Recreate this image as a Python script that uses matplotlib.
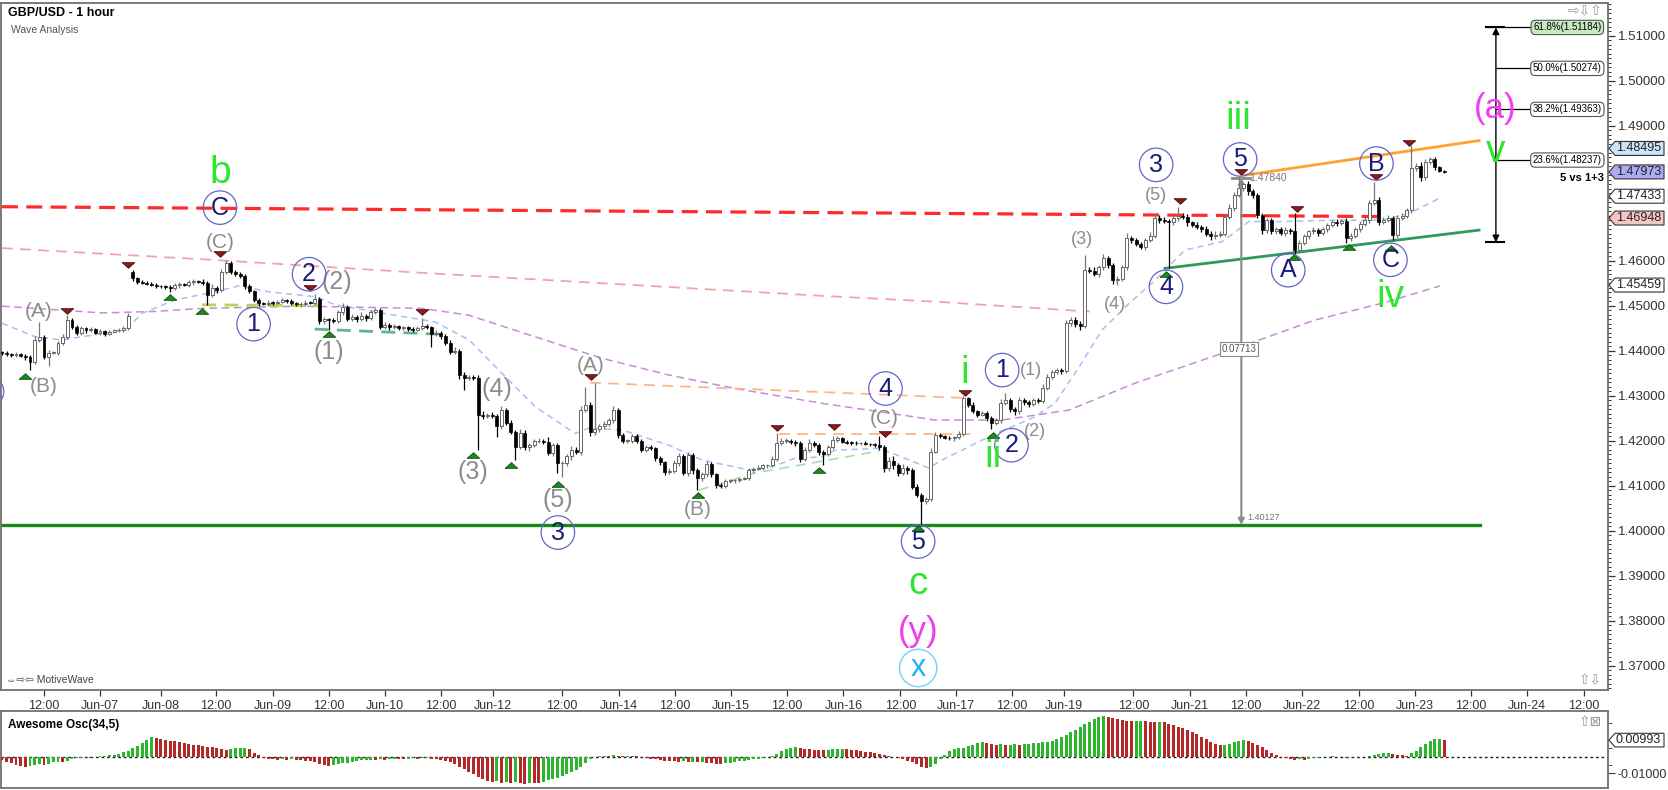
import matplotlib
matplotlib.use("Agg")
import matplotlib.pyplot as plt
import matplotlib.transforms as mtrans
from matplotlib.patches import Polygon
from matplotlib.ticker import FixedLocator, MultipleLocator
import numpy as np

plt.rcParams['font.family'] = ['Liberation Sans', 'DejaVu Sans']

W, H = 1668, 790

# --- GBP/USD hourly closes, in pips above 1.40000 (bar 0 = first visible bar) ---
close_pips = [
    395, 392, 390, 393, 388, 385, 376, 424, 431, 387,
    396, 396, 417, 431, 468, 453, 440, 450, 445, 448,
    440, 443, 438, 442, 445, 446, 450, 477, 561, 553,
    551, 549, 546, 544, 543, 542, 540, 545, 548, 546,
    552, 555, 553, 551, 524, 540, 535, 575, 595, 576,
    570, 565, 544, 533, 513, 505, 504, 507, 506, 509,
    512, 510, 505, 503, 504, 507, 506, 515, 465, 470,
    468, 466, 485, 498, 470, 475, 470, 478, 472, 485,
    490, 453, 458, 452, 455, 450, 452, 449, 446, 450,
    455, 452, 437, 440, 432, 417, 398, 400, 346, 340,
    342, 340, 257, 255, 258, 255, 233, 268, 239, 220,
    187, 218, 185, 190, 199, 200, 198, 173, 190, 150,
    150, 165, 180, 175, 268, 280, 220, 225, 232, 238,
    245, 268, 213, 200, 200, 210, 200, 180, 185, 183,
    162, 152, 131, 133, 150, 165, 128, 168, 135, 117,
    125, 148, 125, 102, 100, 110, 112, 113, 115, 117,
    134, 137, 140, 145, 146, 160, 195, 200, 200, 197,
    195, 160, 180, 195, 190, 175, 170, 185, 201, 205,
    198, 196, 195, 194, 195, 193, 192, 190, 185, 139,
    155, 145, 128, 140, 135, 98, 79, 65, 70, 176,
    213, 210, 207, 205, 208, 215, 294, 280, 265, 258,
    262, 250, 240, 245, 284, 290, 270, 265, 290, 285,
    282, 290, 288, 317, 342, 352, 358, 355, 461, 468,
    460, 455, 579, 578, 570, 585, 605, 590, 557, 560,
    585, 650, 645, 638, 630, 645, 655, 695, 690, 688,
    685, 695, 700, 698, 685, 680, 675, 670, 660, 655,
    658, 660, 698, 717, 746, 762, 770, 755, 745, 701,
    668, 690, 665, 670, 662, 668, 665, 624, 640, 655,
    665, 668, 662, 670, 680, 686, 684, 688, 650, 655,
    670, 682, 690, 728, 735, 687, 690, 695, 657, 695,
    700, 712, 805, 810, 785, 820, 825, 808, 800, 798,
]
first_open = 397
open_gaps = {28: 575}   # bars whose open is not the previous close

# wick lengths beyond the body, pips
hi_wick = [
    3, 4, 3, 5, 3, 4, 6, 8, 33, 5,
    6, 4, 5, 6, 12, 5, 4, 6, 3, 4,
    3, 5, 4, 3, 4, 5, 4, 6, 4, 3,
    4, 3, 3, 5, 3, 4, 3, 5, 4, 3,
    5, 4, 3, 6, 5, 8, 4, 6, 7, 5,
    4, 6, 5, 4, 3, 4, 3, 5, 4, 3,
    6, 3, 4, 3, 4, 5, 4, 10, 4, 5,
    3, 4, 6, 9, 4, 6, 4, 8, 3, 6,
    5, 4, 5, 3, 4, 3, 4, 3, 4, 5,
    17, 5, 4, 6, 4, 5, 6, 8, 4, 6,
    5, 4, 6, 8, 4, 6, 5, 9, 5, 6,
    4, 8, 5, 6, 4, 5, 4, 10, 6, 4,
    5, 6, 8, 6, 10, 40, 6, 104, 6, 5,
    6, 10, 4, 5, 4, 6, 5, 4, 6, 5,
    4, 5, 4, 6, 8, 7, 5, 6, 5, 4,
    6, 7, 5, 4, 3, 5, 4, 3, 4, 3,
    6, 4, 5, 4, 3, 6, 22, 6, 5, 4,
    5, 4, 6, 8, 5, 4, 5, 6, 9, 5,
    3, 4, 3, 4, 3, 4, 3, 4, 20, 5,
    8, 10, 6, 8, 4, 5, 6, 4, 6, 8,
    6, 4, 3, 4, 3, 6, 6, 4, 5, 4,
    5, 4, 6, 5, 8, 16, 5, 4, 8, 6,
    5, 6, 4, 8, 6, 5, 4, 3, 8, 6,
    8, 5, 34, 6, 8, 6, 10, 5, 4, 6,
    6, 12, 5, 6, 4, 6, 8, 9, 6, 8,
    5, 6, 20, 6, 5, 4, 6, 5, 8, 6,
    7, 6, 6, 8, 6, 25, 6, 8, 5, 6,
    6, 5, 6, 5, 4, 6, 5, 40, 6, 5,
    4, 6, 5, 6, 4, 5, 6, 5, 7, 6,
    5, 6, 8, 6, 41, 6, 8, 6, 5, 6,
    5, 6, 52, 8, 10, 6, 5, 6, 2, 2,
]
lo_wick = [
    4, 3, 5, 4, 3, 5, 19, 6, 5, 6,
    22, 4, 5, 4, 6, 5, 4, 6, 5, 4,
    3, 4, 5, 4, 3, 4, 5, 4, 5, 4,
    3, 4, 3, 5, 3, 4, 9, 4, 5, 3,
    4, 5, 3, 4, 22, 5, 6, 4, 5, 6,
    5, 4, 6, 5, 4, 5, 3, 4, 5, 3,
    4, 5, 3, 4, 5, 4, 3, 5, 6, 5,
    21, 4, 5, 6, 4, 5, 6, 4, 5, 4,
    4, 5, 4, 6, 4, 5, 4, 5, 4, 3,
    5, 4, 28, 5, 6, 4, 5, 6, 8, 27,
    6, 5, 78, 6, 5, 4, 24, 6, 5, 6,
    30, 6, 5, 8, 4, 5, 6, 5, 8, 22,
    30, 6, 8, 5, 6, 5, 10, 8, 6, 5,
    6, 5, 8, 5, 4, 6, 5, 6, 5, 4,
    6, 5, 8, 6, 5, 6, 5, 6, 8, 27,
    6, 5, 6, 8, 5, 4, 3, 5, 4, 3,
    4, 5, 3, 4, 5, 4, 6, 5, 4, 5,
    6, 8, 5, 4, 5, 6, 24, 5, 4, 3,
    4, 3, 4, 3, 4, 3, 4, 3, 6, 8,
    6, 8, 6, 5, 8, 6, 5, 52, 6, 5,
    4, 5, 4, 3, 5, 4, 5, 6, 4, 5,
    4, 6, 15, 5, 6, 5, 6, 8, 6, 5,
    6, 5, 4, 5, 4, 5, 4, 6, 5, 6,
    8, 10, 5, 6, 5, 6, 5, 6, 8, 12,
    5, 6, 5, 6, 5, 6, 4, 5, 6, 5,
    101, 5, 6, 5, 8, 6, 5, 6, 5, 8,
    6, 5, 6, 5, 6, 5, 6, 8, 6, 5,
    8, 6, 5, 6, 5, 6, 5, 9, 6, 5,
    6, 5, 6, 5, 6, 5, 6, 5, 10, 6,
    5, 6, 5, 6, 5, 8, 6, 5, 12, 6,
    5, 6, 6, 5, 8, 6, 5, 6, 2, 2,
]

# Awesome Oscillator (34,5), units of 0.001
ao_vals = [
    -2.0, -3.0, -4.0, -5.0, -5.8, -6.0, -5.6, -5.0, -4.6, -4.8,
    -4.2, -3.4, -3.0, -3.4, -2.6, -1.6, -1.0, -0.6, -0.4, -0.5,
    -0.2, 0.3, 0.6, 0.9, 1.3, 1.8, 2.6, 3.4, 5.0, 6.6,
    8.4, 10.2, 12.0, 11.2, 10.6, 10.0, 9.6, 9.2, 8.8, 8.2,
    7.6, 7.2, 7.0, 6.4, 5.8, 5.6, 5.2, 4.6, 4.0, 4.4,
    5.0, 5.4, 5.4, 4.6, 2.4, 0.8, -0.6, -1.2, -1.6, -1.8,
    -1.6, -1.8, -1.6, -1.8, -2.0, -2.4, -2.8, -3.4, -4.4, -5.2,
    -5.6, -5.2, -4.6, -4.0, -3.6, -3.0, -2.6, -2.2, -2.0, -1.8,
    -2.0, -1.6, -1.8, -1.4, -1.2, -1.4, -1.6, -1.2, -1.0, -1.3,
    -1.0, -0.8, -1.2, -1.6, -2.0, -2.4, -3.4, -4.4, -6.0, -7.6,
    -9.0, -10.4, -12.0, -13.2, -14.4, -15.2, -14.8, -15.6, -15.2, -16.0,
    -15.4, -16.0, -16.2, -15.6, -15.8, -16.0, -15.0, -14.2, -13.4, -12.6,
    -11.6, -10.6, -9.4, -7.8, -6.0, -3.6, -1.6, -0.4, 0.2, 0.6,
    0.4, 0.8, 0.6, 0.2, 0.5, 0.3, 0.2, -0.4, -0.8, -1.2,
    -1.6, -2.0, -2.4, -2.6, -2.8, -3.0, -2.8, -3.2, -3.0, -3.4,
    -3.2, -3.6, -3.8, -4.2, -4.4, -4.0, -3.6, -3.2, -2.8, -2.4,
    -2.0, -1.6, -1.2, -0.8, -0.4, 0.2, 1.6, 3.2, 4.4, 5.2,
    5.6, 5.2, 4.8, 4.6, 4.2, 4.0, 3.8, 4.2, 4.6, 4.8,
    4.8, 4.6, 4.2, 4.0, 3.6, 3.0, 2.6, 2.0, 1.4, 0.8,
    0.2, -0.4, -1.0, -1.6, -2.4, -3.4, -4.6, -6.2, -7.0, -6.4,
    -4.2, -1.4, 1.2, 3.6, 4.6, 5.0, 5.4, 6.2, 7.2, 8.2,
    8.6, 8.0, 7.6, 7.2, 7.4, 7.0, 7.2, 7.6, 7.2, 7.4,
    7.8, 8.0, 8.4, 8.6, 9.0, 9.6, 10.4, 11.6, 13.0, 14.6,
    16.2, 17.8, 19.4, 21.0, 22.4, 23.6, 24.2, 24.0, 23.2, 22.6,
    22.0, 21.4, 21.2, 21.4, 21.6, 21.4, 21.0, 20.6, 20.8, 20.6,
    19.6, 18.8, 18.0, 17.0, 16.0, 14.8, 13.6, 12.0, 10.4, 8.8,
    7.6, 6.8, 7.2, 7.8, 8.6, 9.4, 9.8, 9.4, 8.4, 7.2,
    5.6, 4.0, 2.4, 1.0, 0.0, -0.8, -1.4, -1.8, -1.6, -1.8,
    -1.4, -1.0, -0.6, -0.4, -0.2, 0.2, 0.0, -0.4, -0.6, -0.4,
    -0.2, 0.0, -0.3, 0.4, 1.0, 1.6, 2.0, 2.2, 1.6, 1.2,
    0.8, 0.6, 2.0, 3.6, 5.6, 7.6, 9.4, 10.4, 10.8, 9.93,
]

# moving averages: (bar, price) vertices
ma_fast_bar = [0, 7.1, 12.9, 26.4, 30.0, 37.1, 44.4, 50.8, 57.2, 67.1, 71.4, 85.7, 92.8, 100.1, 107.1,
               114.2, 122.8, 125.8, 132.8, 142.9, 150.0, 160.1, 165.6, 169.9, 175.7, 178.5, 187.9, 192.8,
               198.6, 201.4, 205.7, 211.5, 221.3, 225.6, 230.8, 235.7, 241.5, 247.1, 253.5, 261.4, 267.2,
               274.3, 284.3, 295.7, 301.5, 308.6]
ma_fast_val = [1.4461, 1.4431, 1.4424, 1.4446, 1.4483, 1.4513, 1.4528, 1.4544, 1.4531, 1.4520, 1.4502,
               1.4476, 1.4464, 1.4424, 1.4350, 1.4276, 1.4216, 1.4228, 1.4224, 1.4190, 1.4157, 1.4135,
               1.4144, 1.4161, 1.4164, 1.4179, 1.4183, 1.4164, 1.4139, 1.4157, 1.4179, 1.4209, 1.4253,
               1.4283, 1.4364, 1.4446, 1.4505, 1.4557, 1.4624, 1.4642, 1.4687, 1.4687, 1.4690, 1.4690,
               1.4705, 1.4742]
ma_mid_bar = [0, 21.4, 32.1, 42.9, 64.3, 90.0, 100.0, 114.2, 128.6, 142.9, 157.1, 175.7, 185.7, 199.9,
              214.3, 228.6, 242.8, 261.4, 281.3, 296.3, 308.1]
ma_mid_val = [1.4499, 1.4484, 1.4487, 1.4494, 1.4499, 1.4494, 1.4479, 1.4431, 1.4383, 1.4346, 1.4316,
              1.4283, 1.4268, 1.4246, 1.4246, 1.4268, 1.4328, 1.4394, 1.4468, 1.4507, 1.4544]
ma_slow_bar = [0, 45.0, 90.0, 128.6, 175.7, 199.9, 233.1]
ma_slow_val = [1.4628, 1.4602, 1.4573, 1.4550, 1.4522, 1.4509, 1.4487]

# drawn lines (bar, price)
resist_bar, resist_val = [0, 295.7], [1.4720, 1.4698]
support_bar, support_val = [0, 316.6], [1.40127, 1.40127]
wedge_top_bar, wedge_top_val = [266.3, 316.5], [1.4790, 1.4867]
wedge_bot_bar, wedge_bot_val = [249.2, 316.5], [1.4583, 1.4668]
pivot_yg_bar, pivot_yg_val = [42.9, 67.9], [1.4502, 1.4500]
pivot_g_bar, pivot_g_val = [67.0, 93.0], [1.4448, 1.4437]
orange_hi_bar, orange_hi_val = [126.0, 206.3], [1.4329, 1.4295]
orange_lo_bar, orange_lo_val = [166.4, 209.0], [1.4216, 1.4216]
lgreen_bar, lgreen_val = [149.3, 161.3, 187.9], [1.4090, 1.4128, 1.4177]

# swing markers
swing_hi_bar = [27.0, 46.8, 13.9, 66.1, 90.1, 126.1, 166.1, 178.2, 189.3, 206.3, 252.5, 265.5, 277.5, 294.5, 301.5]
swing_hi_val = [1.4590, 1.4615, 1.4488, 1.4539, 1.4487, 1.4342, 1.4228, 1.4231, 1.4216, 1.4307, 1.4733,
                1.4798, 1.4714, 1.4787, 1.4861]
swing_lo_bar = [4.9, 36.1, 42.9, 70.0, 100.9, 109.1, 119.1, 149.1, 175.1, 196.3, 212.3, 249.5, 276.8, 288.6, 297.6]
swing_lo_val = [1.4344, 1.4520, 1.4489, 1.4437, 1.4168, 1.4146, 1.4104, 1.4079, 1.4135, 1.4005, 1.4213,
                1.4570, 1.4609, 1.4631, 1.4629]

# wave labels (bar, price, text)
waves_gray_big = [(70.0, 1.4398, '(1)'), (71.8, 1.4553, '(2)'), (100.9, 1.4131, '(3)'),
                  (106.1, 1.4316, '(4)'), (119.1, 1.4068, '(5)')]
waves_gray_mid = [(7.9, 1.4487, '(A)'), (8.9, 1.4320, '(B)'), (46.7, 1.4640, '(C)'),
                  (126.1, 1.4368, '(A)'), (149.1, 1.4048, '(B)'), (189.1, 1.4250, '(C)')]
waves_gray_small = [(220.5, 1.4356, '(1)'), (221.3, 1.4220, '(2)'), (231.4, 1.4648, '(3)'),
                    (238.4, 1.4502, '(4)'), (247.3, 1.4744, '(5)')]
waves_circled = [(46.7, 1.4718, 'C'), (53.9, 1.4459, '1'), (65.8, 1.4570, '2'),
                 (119.1, 1.3996, '3'), (189.3, 1.4316, '4'), (196.3, 1.3976, '5'), (214.3, 1.4357, '1'),
                 (216.3, 1.4190, '2'), (247.3, 1.4813, '3'), (249.4, 1.4542, '4'), (265.3, 1.4825, '5'),
                 (275.6, 1.4579, 'A'), (294.5, 1.4816, 'B'), (297.5, 1.4602, 'C')]
edge_circle = (-3.0, 1.4310)   # circle cut by the left edge of the chart
waves_green = [(46.7, 1.4795, 'b'), (196.3, 1.3882, 'c'), (206.3, 1.4350, 'i'), (212.3, 1.4164, 'ii'),
               (264.8, 1.4915, 'iii'), (297.5, 1.4520, 'iv'), (320.0, 1.4842, 'v')]
waves_magenta = [(196.3, 1.3777, '(y)'), (320.0, 1.4939, '(a)')]
wave_x = (196.3, 1.3695, 'x')

# measurement and fibonacci tool
measure_bar = 265.55
measure_top, measure_bot = 1.47840, 1.40127
fib_bar = 320.1
fib_base = 1.46410
fib_levels = [0.618, 0.500, 0.382, 0.236]
fib_prices = [1.51184, 1.50274, 1.49363, 1.48237]

# right-axis price tags
tag_prices = [1.48495, 1.47973, 1.47433, 1.46948, 1.45459]
tag_fill = ['#cde3f6', '#ababf2', 'white', '#f6c6c6', 'white']

price_ticks = [1.37, 1.38, 1.39, 1.40, 1.41, 1.42, 1.43, 1.44, 1.45, 1.46, 1.47, 1.48, 1.49, 1.50, 1.51]
hidden_ticks = [1.47, 1.48]

date_tick_bar = [9.0, 20.9, 34.0, 45.9, 58.1, 70.1, 82.1, 94.1, 105.2, 120.0, 132.2, 144.2, 156.2, 168.2,
                 180.3, 192.5, 204.4, 216.4, 227.6, 242.4, 254.5, 266.5, 278.6, 290.7, 302.7, 314.8,
                 326.8, 338.9]
date_tick_lbl = ['12:00', 'Jun-07', 'Jun-08', '12:00', 'Jun-09', '12:00', 'Jun-10', '12:00', 'Jun-12',
                 '12:00', 'Jun-14', '12:00', 'Jun-15', '12:00', 'Jun-16', '12:00', 'Jun-17', '12:00',
                 'Jun-19', '12:00', 'Jun-21', '12:00', 'Jun-22', '12:00', 'Jun-23', '12:00', 'Jun-24',
                 '12:00']


# ---------------- figure ----------------
fig = plt.figure(figsize=(W / 100, H / 100), dpi=100)
fig.patch.set_facecolor('white')

ax = fig.add_axes([1 / W, 1 - 690 / H, 1607 / W, 687 / H])
ax2 = fig.add_axes([1 / W, 1 - 788 / H, 1607 / W, 77 / H])

XMIN = -0.214
XMAX = XMIN + 1607 / 4.667
ax.set_xlim(XMIN, XMAX)
ax.set_ylim(1.36460, 1.51727)
ax2.set_xlim(XMIN, XMAX)
ax2.set_ylim(-0.01874, 0.02737)

for a in (ax, ax2):
    for s in a.spines.values():
        s.set_color('#707070')
        s.set_linewidth(1.3)

# candles
n = len(close_pips)
bars = np.arange(n)
opens_list = [first_open] + close_pips[:-1]
for k, v in open_gaps.items():
    opens_list[k] = v
o = 1.40 + np.array(opens_list) / 10000
c = 1.40 + np.array(close_pips) / 10000
top = np.maximum(o, c)
bot = np.minimum(o, c)
hi = top + np.array(hi_wick) / 10000
lo = bot - np.array(lo_wick) / 10000
rising = c >= o
body = np.maximum(top - bot, 0.00012)

ax.vlines(bars[rising], lo[rising], hi[rising], color='#777777', lw=0.9, zorder=3)
ax.vlines(bars[~rising], lo[~rising], hi[~rising], color='black', lw=0.9, zorder=3)
ax.bar(bars[rising], body[rising], bottom=bot[rising], width=0.64, color='white',
       edgecolor='#666666', linewidth=0.7, zorder=4)
ax.bar(bars[~rising], body[~rising], bottom=bot[~rising], width=0.64, color='black',
       edgecolor='black', linewidth=0.5, zorder=4)

# moving averages
ax.plot(ma_slow_bar, ma_slow_val, color='#f4a3a3', lw=1.3, dashes=(6, 4), zorder=2)
ax.plot(ma_mid_bar, ma_mid_val, color='#c98bd6', lw=1.1, dashes=(5, 3), zorder=2)
ax.plot(ma_fast_bar, ma_fast_val, color='#a7bff4', lw=1.1, dashes=(4, 3), zorder=2)

# small pivot dashes
ax.plot(pivot_yg_bar, pivot_yg_val, color='#b5d64a', lw=2, dashes=(5, 3), zorder=2)
ax.plot(pivot_g_bar, pivot_g_val, color='#5cb88a', lw=2, dashes=(5, 3), zorder=2)
ax.plot(orange_hi_bar, orange_hi_val, color='#ffb487', lw=1.3, dashes=(6, 4), zorder=2)
ax.plot(orange_lo_bar, orange_lo_val, color='#ffb487', lw=1.3, dashes=(6, 4), zorder=2)
ax.plot(lgreen_bar, lgreen_val, color='#a8dcb0', lw=1.2, dashes=(6, 4), zorder=2)

# key levels and channel
ax.plot(resist_bar, resist_val, color='#ff2b2b', lw=2.3, dashes=(5, 2.6), zorder=2.5)
ax.plot(support_bar, support_val, color='#168a16', lw=2.4, zorder=2.5)
ax.plot(wedge_top_bar, wedge_top_val, color='#ffa12e', lw=2.0, zorder=2.5)
ax.plot(wedge_bot_bar, wedge_bot_val, color='#2e9a5f', lw=2.0, zorder=2.5)

# swing triangles
tri_up = [(-1, -0.45), (1, -0.45), (0, 0.45), (-1, -0.45)]
tri_dn = [(-1, 0.45), (1, 0.45), (0, -0.45), (-1, 0.45)]
ax.plot(swing_lo_bar, swing_lo_val, ls='none', marker=tri_up, ms=9, mfc='#1d8a1d', mec='#0b4d0b',
        mew=0.6, zorder=5)
ax.plot(swing_hi_bar, swing_hi_val, ls='none', marker=tri_dn, ms=9, mfc='#8b1a1a', mec='#4d0a0a',
        mew=0.6, zorder=5)

# measurement tool
ax.annotate('', xy=(measure_bar, measure_top), xytext=(measure_bar, measure_bot),
            arrowprops=dict(arrowstyle='<|-|>', color='#8a8a8a', lw=1.5, mutation_scale=9,
                            shrinkA=0, shrinkB=0), zorder=2.6)
ax.plot([measure_bar - 2.0, measure_bar + 1.9], [measure_top, measure_top], color='#8a8a8a', lw=2, zorder=2.6)
ax.text(measure_bar + 1.6, measure_top - 0.0001, '1.47840', fontsize=7.5, color='#777777',
        ha='left', va='center', zorder=6)
ax.text(measure_bar + 1.3, measure_bot + 0.0006, '1.40127', fontsize=6.5, color='#777777',
        ha='left', va='bottom', zorder=6)
ax.text(measure_bar - 0.5, 1.44038, '%.5f' % (measure_top - measure_bot), fontsize=7, color='#555555',
        ha='center', va='center', zorder=6,
        bbox=dict(boxstyle='square,pad=0.2', fc='white', ec='#888888', lw=0.8))

# fibonacci projection
ax.annotate('', xy=(fib_bar, fib_prices[0]), xytext=(fib_bar, fib_base),
            arrowprops=dict(arrowstyle='<|-|>', color='black', lw=1.0, mutation_scale=10,
                            shrinkA=0, shrinkB=0), zorder=5)
ax.plot([fib_bar - 2.1, fib_bar + 1.8], [fib_base, fib_base], color='black', lw=1.5, zorder=5)
ax.plot([fib_bar - 2.1, fib_bar + 1.8], [fib_prices[0], fib_prices[0]], color='black', lw=1.5, zorder=5)
for lev, pr in zip(fib_levels, fib_prices):
    x0 = fib_bar - 2.1 if lev == 0.618 else fib_bar
    ax.plot([x0, 327.5], [pr, pr], color='black', lw=0.9, zorder=5)
    ax.text(335.4, pr, '%.1f%%(%.5f)' % (lev * 100, pr), fontsize=7, ha='center', va='center', zorder=6,
            bbox=dict(boxstyle='round,pad=0.22,rounding_size=0.45',
                      fc='#c8e8bf' if lev == 0.618 else 'white', ec='#555555', lw=0.8))
ax.text(343.2, 1.47844, '5 vs 1+3', fontsize=8, fontweight='bold', ha='right', va='center', zorder=6)

# wave labels
for x, y, s in waves_gray_big:
    ax.text(x, y, s, fontsize=18, color='#8c8c8c', ha='center', va='center', zorder=6)
for x, y, s in waves_gray_mid:
    ax.text(x, y, s, fontsize=15, color='#8c8c8c', ha='center', va='center', zorder=6)
for x, y, s in waves_gray_small:
    ax.text(x, y, s, fontsize=13, color='#8c8c8c', ha='center', va='center', zorder=6)
for x, y, s in waves_circled:
    ax.text(x, y, s, fontsize=18, color='#1a1a7a', ha='center', va='center', zorder=6,
            bbox=dict(boxstyle='circle,pad=0.19', fc='none', ec='#6464c8', lw=0.9))
ax.plot([edge_circle[0]], [edge_circle[1]], ls='none', marker='o', ms=22, mfc='none', mec='#6464c8',
        mew=0.9, zorder=6)
for x, y, s in waves_green:
    ax.text(x, y, s, fontsize=28, color='#2fe62f', ha='center', va='center', zorder=6)
for x, y, s in waves_magenta:
    ax.text(x, y, s, fontsize=25, color='#f23cf0', ha='center', va='center', zorder=6)
ax.text(wave_x[0], wave_x[1], wave_x[2], fontsize=22, color='#1cb4f0', ha='center', va='center', zorder=6,
        bbox=dict(boxstyle='circle,pad=0.12', fc='none', ec='#74d0f4', lw=1.0))

# axes ticks
ax.yaxis.tick_right()
ax.yaxis.set_major_locator(FixedLocator(price_ticks))
ax.set_yticklabels(['' if t in hidden_ticks else '%.5f' % t for t in price_ticks])
ax.yaxis.set_minor_locator(MultipleLocator(0.001))
ax.tick_params(axis='y', which='major', direction='out', length=5, width=0.9, colors='#333333',
               labelsize=9.5, pad=2)
ax.tick_params(axis='y', which='minor', direction='out', length=2.5, width=0.7, colors='#333333')
ax.set_xticks(date_tick_bar)
ax.set_xticklabels(date_tick_lbl)
ax.tick_params(axis='x', direction='out', length=4, width=0.9, colors='#333333', labelsize=9, pad=3)

ax2.yaxis.tick_right()
ax2.set_xticks([])
ax2.yaxis.set_major_locator(FixedLocator([-0.01]))
ax2.set_yticklabels(['-0.01000'])
ax2.yaxis.set_minor_locator(FixedLocator([0.02, 0.005, -0.005]))
ax2.tick_params(axis='y', which='major', direction='out', length=5, colors='#333333', labelsize=9, pad=2)
ax2.tick_params(axis='y', which='minor', direction='out', length=3, colors='#333333')

# oscillator
ao = np.array(ao_vals) / 1000
ao_colors = ['#b52828'] + ['#2db52d' if ao[i] >= ao[i - 1] else '#b52828' for i in range(1, len(ao))]
ax2.bar(np.arange(len(ao)), ao, width=0.64, color=ao_colors, zorder=3)
ax2.axhline(0, color='#222222', lw=1.0, dashes=(2, 2), zorder=2)


# right-hand price tags
def price_tag(axis, value, text, fill, half_h):
    tr = mtrans.blended_transform_factory(fig.transFigure, axis.transData)
    verts = [(1609 / W, value), (1615 / W, value + half_h), (1664 / W, value + half_h),
             (1664 / W, value - half_h), (1615 / W, value - half_h)]
    axis.add_patch(Polygon(verts, closed=True, transform=tr, fc=fill, ec='#333333', lw=0.8,
                           clip_on=False, zorder=10))
    axis.text(1616 / W, value, text, transform=tr, fontsize=9, color='#222222', ha='left',
              va='center', clip_on=False, zorder=11)


for p, f in zip(tag_prices, tag_fill):
    price_tag(ax, p, '%.5f' % p, f, 0.00155)
price_tag(ax2, ao[-1], '%.5f' % ao[-1], 'white', 0.0041)

# titles, captions, little chart icons
fig.text(8 / W, 1 - 13 / H, 'GBP/USD - 1 hour', fontsize=9, fontweight='bold', va='center')
fig.text(11 / W, 1 - 30 / H, 'Wave Analysis', fontsize=7.5, color='#555555', va='center')
fig.text(6 / W, 1 - 680 / H, '⇔⇨⇦ MotiveWave', fontsize=7.5, color='#444444', va='center')
fig.text(8 / W, 1 - 725 / H, 'Awesome Osc(34,5)', fontsize=8.5, fontweight='bold', va='center')
fig.text(1602 / W, 1 - 11 / H, '⇨⇩⇧', fontsize=10, color='#999999', ha='right', va='center')
fig.text(1602 / W, 1 - 680 / H, '⇧⇩', fontsize=10, color='#999999', ha='right', va='center')
fig.text(1602 / W, 1 - 722 / H, '⇧⊠', fontsize=10, color='#999999', ha='right', va='center')

fig.savefig('out.png', dpi=100)
